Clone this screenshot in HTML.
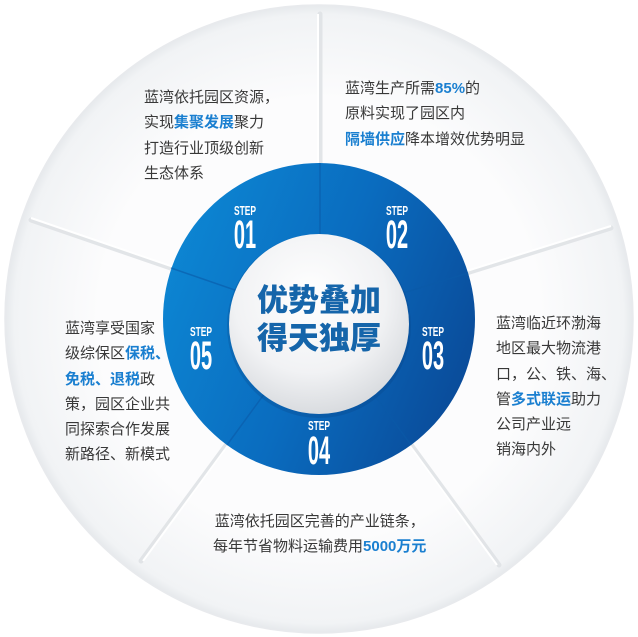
<!DOCTYPE html>
<html><head><meta charset="utf-8">
<style>
html,body{margin:0;padding:0;background:#fff;}
#w{position:relative;width:638px;height:637px;overflow:hidden;font-family:"Liberation Sans","Noto Sans CJK SC",sans-serif;}
.t{position:absolute;font-size:15px;line-height:25.3px;color:#383838;white-space:nowrap;}
.b{color:#1a7fd0;font-weight:bold;}
svg{position:absolute;left:0;top:0;}
</style></head><body><div id="w">
<svg width="638" height="637" viewBox="0 0 638 637">
<defs>
<radialGradient id="og" cx="0.5" cy="0.5" r="0.5">
<stop offset="0.7" stop-color="#fcfcfd"/><stop offset="0.97" stop-color="#f1f3f5"/><stop offset="1" stop-color="#e6e9ec"/>
</radialGradient>
<linearGradient id="rg" x1="0" y1="0.3" x2="1" y2="0.7">
<stop offset="0" stop-color="#0d86d3"/><stop offset="0.5" stop-color="#0a6cbf"/><stop offset="1" stop-color="#0a4a98"/>
</linearGradient>
<radialGradient id="ig" cx="0.45" cy="0.35" r="0.7">
<stop offset="0" stop-color="#ffffff"/><stop offset="0.6" stop-color="#f1f2f4"/><stop offset="1" stop-color="#d4d7db"/>
</radialGradient>
</defs>
<circle cx="319" cy="319" r="314" fill="url(#og)" stroke="#e8eaed" stroke-width="1.5"/>
<g stroke="#e0e3e6" stroke-width="5" stroke-linecap="round" opacity="0.9">
<line x1="320" y1="319" x2="320" y2="14"/>
<line x1="319" y1="319" x2="611" y2="228"/>
<line x1="319" y1="319" x2="499" y2="565"/>
<line x1="319" y1="319" x2="141" y2="561"/>
<line x1="319" y1="319" x2="31" y2="220"/>
</g>
<g stroke="#ffffff" stroke-width="2">
<line x1="318" y1="319" x2="318" y2="14"/>
<line x1="319" y1="317" x2="611" y2="226"/>
<line x1="317" y1="319" x2="497" y2="565"/>
<line x1="321" y1="319" x2="143" y2="561"/>
<line x1="319" y1="317" x2="31" y2="218"/>
</g>
<circle cx="319" cy="319" r="156" fill="url(#rg)"/>
<g stroke="#0a5aa8" stroke-width="1.5" opacity="0.6">
<line x1="320" y1="319" x2="320" y2="163"/>
<line x1="319" y1="319" x2="468" y2="273"/>
<line x1="319" y1="319" x2="411" y2="445"/>
<line x1="319" y1="319" x2="227" y2="445"/>
<line x1="319" y1="319" x2="171" y2="268"/>
</g>
<circle cx="319" cy="326" r="92" fill="#08407f" opacity="0.25"/>
<circle cx="319" cy="324" r="90" fill="url(#ig)"/>
<g fill="#ffffff" font-family="'Liberation Sans Narrow','Liberation Sans',sans-serif" font-weight="bold" text-anchor="middle">
<text x="245" y="215" font-size="13" transform="translate(245 0) scale(0.65 1) translate(-245 0)">STEP</text>
<text x="245" y="248" font-size="40" transform="translate(245 0) scale(0.5 1) translate(-245 0)">01</text>
<text x="397" y="215" font-size="13" transform="translate(397 0) scale(0.65 1) translate(-397 0)">STEP</text>
<text x="397" y="248" font-size="40" transform="translate(397 0) scale(0.5 1) translate(-397 0)">02</text>
<text x="433" y="336" font-size="13" transform="translate(433 0) scale(0.65 1) translate(-433 0)">STEP</text>
<text x="433" y="369" font-size="40" transform="translate(433 0) scale(0.5 1) translate(-433 0)">03</text>
<text x="319" y="430" font-size="13" transform="translate(319 0) scale(0.65 1) translate(-319 0)">STEP</text>
<text x="319" y="464" font-size="40" transform="translate(319 0) scale(0.5 1) translate(-319 0)">04</text>
<text x="201" y="336" font-size="13" transform="translate(201 0) scale(0.65 1) translate(-201 0)">STEP</text>
<text x="201" y="369" font-size="40" transform="translate(201 0) scale(0.5 1) translate(-201 0)">05</text>
</g>
<g fill="#1565aa" font-family="'Liberation Sans','Noto Sans CJK SC',sans-serif" font-weight="900" font-size="31" text-anchor="middle">
<text x="319" y="311">优势叠加</text>
<text x="319" y="349">得天独厚</text>
</g>
</svg>
<div class="t" style="left:144px;top:85px;">蓝湾依托园区资源，<br>实现<span class="b">集聚发展</span>聚力<br>打造行业顶级创新<br>生态体系</div>
<div class="t" style="left:345px;top:76px;">蓝湾生产所需<span class="b">85%</span>的<br>原料实现了园区内<br><span class="b">隔墙供应</span>降本增效优势明显</div>
<div class="t" style="left:496px;top:311px;">蓝湾临近环渤海<br>地区最大物流港<br>口，公、铁、海、<br>管<span class="b">多式联运</span>助力<br>公司产业远<br>销海内外</div>
<div class="t" style="left:213px;top:509px;text-align:center;">蓝湾依托园区完善的产业链条，<br>每年节省物料运输费用<span class="b">5000万元</span></div>
<div class="t" style="left:65px;top:316px;">蓝湾享受国家<br>级综保区<span class="b">保税、</span><br><span class="b">免税、退税</span>政<br>策，园区企业共<br>同探索合作发展<br>新路径、新模式</div>
</div></body></html>
